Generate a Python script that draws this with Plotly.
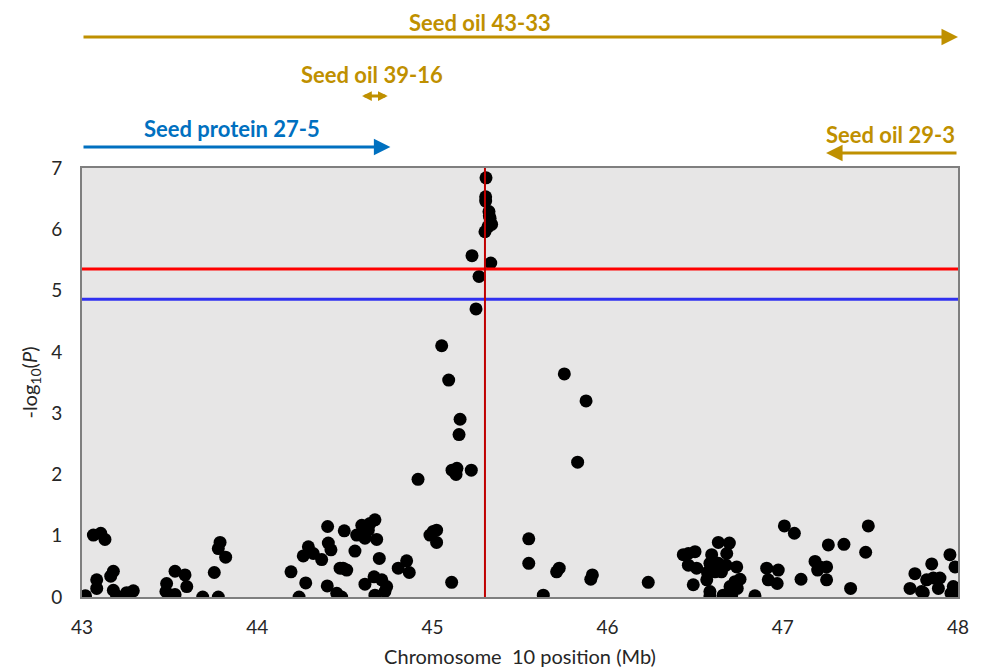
import plotly.graph_objects as go

# Marker positions along chromosome 10 (Mb) and association strength -log10(P)
pos_mb = [
    43.02, 43.065, 43.107, 43.131, 43.084, 43.084, 43.179, 43.164, 43.179, 43.198,
    43.255, 43.293, 43.483, 43.479, 43.502, 43.531, 43.531, 43.588, 43.598, 43.689,
    43.755, 43.788, 43.778, 43.82, 43.778,
    44.193, 44.239, 44.277, 44.292, 44.263, 44.32, 44.368, 44.402, 44.497, 44.406,
    44.421, 44.40, 44.454, 44.482, 44.473, 44.511, 44.49, 44.558, 44.568, 44.597,
    44.615, 44.644, 44.672, 44.634, 44.615, 44.682, 44.697, 44.615, 44.667, 44.711,
    44.739, 44.672, 44.729, 44.805, 44.853, 44.868, 44.918, 44.986, 45.005, 45.024,
    45.024,
    45.053, 45.093, 45.110, 45.112, 45.14, 45.135, 45.158, 45.152, 45.222, 45.226,
    45.249, 45.266, 45.300, 45.304, 45.304, 45.306, 45.317, 45.323, 45.329, 45.333,
    45.338, 45.325, 45.33,
    45.55, 45.55, 45.633, 45.709, 45.724, 45.753, 45.829, 45.877, 45.904, 45.913,
    46.232, 46.432, 46.461, 46.499, 46.461, 46.508, 46.489, 46.566, 46.575, 46.584,
    46.584, 46.584, 46.594, 46.613, 46.632, 46.632, 46.66, 46.676, 46.68, 46.695,
    46.699, 46.708, 46.727, 46.737, 46.756, 46.841, 46.57, 46.65, 46.74,
    46.908, 46.974, 46.917, 46.968, 47.009, 47.066, 47.104, 47.184, 47.212, 47.25,
    47.199, 47.25, 47.26, 47.349, 47.387, 47.473, 47.488,
    47.726, 47.754, 47.802, 47.821, 47.85, 47.859, 47.888, 47.897, 47.954, 47.973,
    47.973, 47.983, 47.992, 47.792, 47.98, 47.96,
]
neg_log_p = [
    0.02, 1.01, 1.04, 0.94, 0.28, 0.14, 0.42, 0.34, 0.11, 0.02,
    0.07, 0.10, 0.22, 0.09, 0.03, 0.04, 0.42, 0.36, 0.17, 0.0,
    0.40, 0.89, 0.79, 0.65, 0.0,
    0.41, 0.0, 0.23, 0.82, 0.67, 0.71, 0.61, 1.15, 1.08, 0.88,
    0.77, 0.18, 0.06, 0.0, 0.47, 0.44, 0.47, 0.75, 1.01, 1.17,
    1.07, 1.20, 1.26, 1.09, 0.96, 0.94, 0.63, 0.21, 0.33, 0.28,
    0.17, 0.03, 0.09, 0.47, 0.59, 0.40, 1.92, 1.01, 1.07, 1.09,
    0.89,
    4.10, 3.54, 0.24, 2.07, 2.10, 2.00, 2.90, 2.65, 2.07, 5.57,
    4.70, 5.23, 5.96, 6.53, 6.46, 6.84, 6.04, 6.29, 6.18, 5.45,
    6.08, 6.22, 6.12,
    0.95, 0.55, 0.03, 0.41, 0.47, 3.64, 2.20, 3.20, 0.29, 0.36,
    0.24, 0.69, 0.71, 0.74, 0.52, 0.47, 0.20, 0.28, 0.41, 0.55,
    0.09, 0.02, 0.69, 0.41, 0.89, 0.55, 0.03, 0.52, 0.71, 0.88,
    0.17, 0.03, 0.25, 0.49, 0.29, 0.02, 0.40, 0.41, 0.14,
    0.47, 0.44, 0.28, 0.22, 1.16, 1.04, 0.29, 0.58, 0.49, 0.49,
    0.44, 0.28, 0.85, 0.86, 0.14, 0.73, 1.16,
    0.14, 0.38, 0.07, 0.28, 0.54, 0.31, 0.14, 0.31, 0.69, 0.17,
    0.0, 0.49, 0.04, 0.09, 0.14, 0.06,
]

# Significance thresholds and lead SNP position
threshold_strict = 5.35
threshold_suggestive = 4.86
lead_snp_mb = 45.30

# QTL intervals drawn above the panel
qtl_labels = ["Seed oil 43-33", "Seed oil 39-16", "Seed protein 27-5", "Seed oil 29-3"]
qtl_start = [43.0, 44.59, 43.0, 48.0]
qtl_end = [48.0, 44.745, 44.76, 47.247]
qtl_colors = ["#BF9000", "#BF9000", "#0070C0", "#BF9000"]
qtl_label_x = [45.272, 44.655, 43.856, 47.612]
qtl_double = [False, True, False, False]
# vertical placement (paper units) of each arrow and its label
qtl_arrow_y = [1.3054, 1.1678, 1.049, 1.035]
qtl_label_y = [1.340, 1.2168, 1.091, 1.079]

x_ticks = [43, 44, 45, 46, 47, 48]
y_ticks = [0, 1, 2, 3, 4, 5, 6, 7]

FONT = "Lato, 'Open Sans', sans-serif"

fig = go.Figure()
fig.add_trace(go.Scatter(
    x=pos_mb, y=neg_log_p, mode="markers",
    marker=dict(color="black", size=13, line=dict(width=0)),
    showlegend=False, hoverinfo="x+y",
))

fig.add_hline(y=threshold_strict, line=dict(color="#FF0000", width=3), layer="above")
fig.add_hline(y=threshold_suggestive, line=dict(color="#3030F0", width=3), layer="above")
fig.add_shape(type="line", x0=lead_snp_mb, x1=lead_snp_mb, y0=0, y1=7,
              xref="x", yref="y", line=dict(color="#C00000", width=2), layer="above")

for lab, s, e, c, lx, dbl, ay, ly in zip(qtl_labels, qtl_start, qtl_end, qtl_colors,
                                          qtl_label_x, qtl_double, qtl_arrow_y, qtl_label_y):
    head = 0.65 if dbl else 1.1
    fig.add_annotation(
        x=e, y=ay, xref="x", yref="paper",
        ax=s, ay=0, axref="x", ayref="pixel",
        text="", showarrow=True, arrowhead=2, arrowsize=head, arrowwidth=3,
        arrowcolor=c, arrowside="end+start" if dbl else "end",
        startarrowhead=2, startarrowsize=head,
    )
    fig.add_annotation(
        x=lx, y=ly, xref="x", yref="paper", text=f"<b>{lab}</b>",
        showarrow=False, font=dict(family=FONT, size=22, color=c),
        xanchor="center", yanchor="middle",
    )

fig.update_layout(
    width=986, height=668,
    margin=dict(l=82, r=28, t=168, b=71),
    paper_bgcolor="white", plot_bgcolor="#E7E6E6",
    font=dict(family=FONT, size=19, color="#262626"),
    showlegend=False,
)
fig.update_xaxes(
    range=[43, 48], tickvals=x_ticks, ticks="", showgrid=False, zeroline=False,
    showline=True, linecolor="#7F7F7F", linewidth=2, mirror=True, automargin=False,
    tickfont=dict(size=19), ticklabelstandoff=12,
    title=dict(text="Chromosome  10 position (Mb)", font=dict(size=20), standoff=14),
)
fig.update_yaxes(
    range=[0, 7], tickvals=y_ticks, ticks="", showgrid=False, zeroline=False,
    showline=True, linecolor="#7F7F7F", linewidth=2, mirror=True, automargin=False,
    tickfont=dict(size=19), ticklabelstandoff=14,
    title=dict(text="-log<sub>10</sub>(<i>P</i>)", font=dict(size=20), standoff=8),
)

fig.write_html("out.html")
